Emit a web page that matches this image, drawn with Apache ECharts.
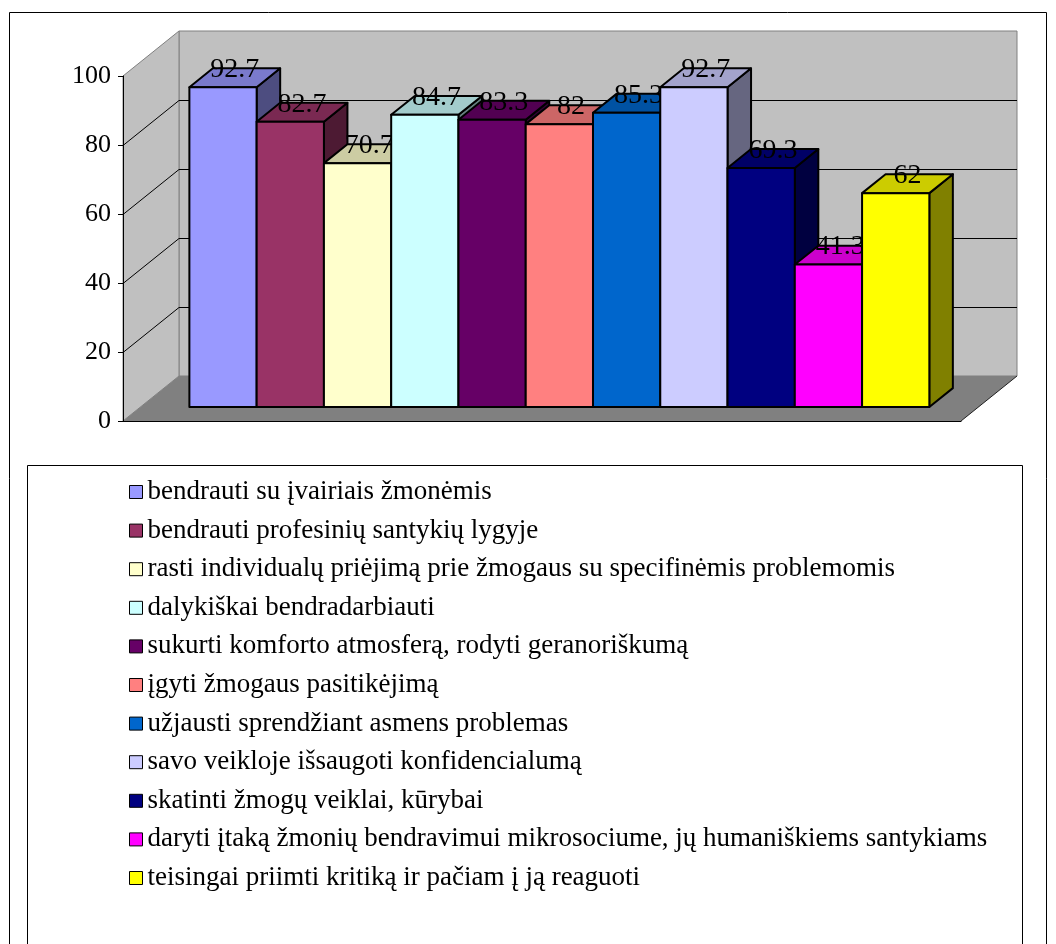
<!DOCTYPE html>
<html>
<head>
<meta charset="utf-8">
<script src="https://cdn.jsdelivr.net/npm/echarts@6/dist/echarts.min.js"></script>
<style>
  html, body { margin: 0; padding: 0; background: #fff; }
  #chart { width: 1056px; height: 944px; }
</style>
</head>
<body>
<div id="chart"></div>
<script>
// data
const categories = [
    'bendrauti su įvairiais žmonėmis',
    'bendrauti profesinių santykių lygyje',
    'rasti individualų priėjimą prie žmogaus su specifinėmis problemomis',
    'dalykiškai bendradarbiauti',
    'sukurti komforto atmosferą, rodyti geranoriškumą',
    'įgyti žmogaus pasitikėjimą',
    'užjausti sprendžiant asmens problemas',
    'savo veikloje išsaugoti konfidencialumą',
    'skatinti žmogų veiklai, kūrybai',
    'daryti įtaką žmonių bendravimui mikrosociume, jų humaniškiems santykiams',
    'teisingai priimti kritiką ir pačiam į ją reaguoti'
];
const values = [92.7, 82.7, 70.7, 84.7, 83.3, 82, 85.3, 92.7, 69.3, 41.3, 62];
const barColors = ['#9999FF', '#993366', '#FFFFCC', '#CCFFFF', '#660066', '#FF8080',
    '#0066CC', '#CCCCFF', '#000080', '#FF00FF', '#FFFF00'];
const yTicks = [0, 20, 40, 60, 80, 100];

// pseudo 3d settings
const DEPTH = [56, -45];
const BAR_FRONT = 0.31;
const BAR_BACK = 0.73;
const GROUP_RATIO = 0.883;
const FONT = '"Liberation Serif", "Times New Roman", serif';

function shade(hex, k) {
    const n = parseInt(hex.slice(1), 16);
    const r = Math.round(((n >> 16) & 255) * k);
    const g = Math.round(((n >> 8) & 255) * k);
    const b = Math.round((n & 255) * k);
    return `rgb(${r},${g},${b})`;
}

function renderWalls(params, api) {
    const cs = params.coordSys;
    const x0 = cs.x, x1 = cs.x + cs.width;
    const y0 = api.coord([0, 0])[1];
    const yTop = api.coord([0, yTicks[yTicks.length - 1]])[1];
    const [dx, dy] = DEPTH;
    const children = [
        { type: 'polygon', shape: { points: [[x0 + dx, yTop + dy], [x1 + dx, yTop + dy], [x1 + dx, y0 + dy], [x0 + dx, y0 + dy]] },
          style: { fill: '#C0C0C0', stroke: '#808080', lineWidth: 1 } },
        { type: 'polygon', shape: { points: [[x0, yTop], [x0 + dx, yTop + dy], [x0 + dx, y0 + dy], [x0, y0]] },
          style: { fill: '#C0C0C0', stroke: '#808080', lineWidth: 1 } },
        { type: 'polygon', shape: { points: [[x0, y0], [x0 + dx, y0 + dy], [x1 + dx, y0 + dy], [x1, y0]] },
          style: { fill: '#808080' } },
        { type: 'line', shape: { x1: x1, y1: y0, x2: x1 + dx, y2: y0 + dy },
          style: { stroke: '#202020', lineWidth: 1 } }
    ];
    // gridlines on back wall and side wall
    yTicks.slice(1, -1).forEach(v => {
        const y = Math.round(api.coord([0, v])[1]) + 0.5;
        children.push({ type: 'line', shape: { x1: x0 + dx, y1: y + dy, x2: x1 + dx, y2: y + dy },
            style: { stroke: '#000', lineWidth: 1 } });
        children.push({ type: 'line', shape: { x1: x0, y1: y, x2: x0 + dx, y2: y + dy },
            style: { stroke: '#000', lineWidth: 1 } });
    });
    return { type: 'group', children };
}

function renderBar(idx) {
    return function (params, api) {
        const cs = params.coordSys;
        const n = values.length;
        const bw = cs.width * GROUP_RATIO / n;
        const left = cs.x + cs.width / 2 - bw * n / 2 + idx * bw;
        const fx = DEPTH[0] * BAR_FRONT, fy = DEPTH[1] * BAR_FRONT;
        const dx = DEPTH[0] * (BAR_BACK - BAR_FRONT), dy = DEPTH[1] * (BAR_BACK - BAR_FRONT);
        const L = left + fx, R = left + bw + fx;
        const B = api.coord([0, 0])[1] + fy;
        const T = api.coord([0, api.value(1)])[1] + fy;
        const c = barColors[idx];
        const edge = { stroke: '#000', lineWidth: 2, lineJoin: 'round' };
        return {
            type: 'group',
            children: [
                { type: 'polygon', shape: { points: [[R, T], [R + dx, T + dy], [R + dx, B + dy], [R, B]] },
                  style: Object.assign({ fill: shade(c, 0.5) }, edge) },
                { type: 'polygon', shape: { points: [[L, T], [R, T], [R + dx, T + dy], [L + dx, T + dy]] },
                  style: Object.assign({ fill: shade(c, 0.8) }, edge) },
                { type: 'rect', shape: { x: L, y: T, width: R - L, height: B - T },
                  style: Object.assign({ fill: c }, edge) },
                { type: 'text', x: (L + R) / 2 + dx / 2, y: T + dy / 2 - 8,
                  style: { text: String(api.value(1)), fill: '#000', font: '28px ' + FONT,
                           align: 'center', verticalAlign: 'middle' } }
            ]
        };
    };
}

const series = [{
    type: 'custom',
    name: 'walls',
    silent: true,
    renderItem: renderWalls,
    data: [[0, 0]]
}];
categories.forEach((name, i) => {
    series.push({
        type: 'custom',
        name: name,
        silent: true,
        itemStyle: { color: barColors[i] },
        renderItem: renderBar(i),
        data: [[0, values[i]]]
    });
});

const chart = echarts.init(document.getElementById('chart'));
chart.setOption({
    animation: false,
    backgroundColor: '#fff',
    color: barColors,
    grid: { left: 123, top: 76, width: 838, height: 345 },
    xAxis: {
        type: 'category',
        data: [''],
        z: 10,
        axisLine: { lineStyle: { color: '#000', width: 1 } },
        axisTick: { length: 5, lineStyle: { color: '#000' } },
        axisLabel: { show: false }
    },
    yAxis: {
        type: 'value',
        min: 0,
        max: 100,
        interval: 20,
        z: 10,
        splitLine: { show: false },
        axisLine: { show: true, lineStyle: { color: '#000', width: 1 } },
        axisTick: { show: true, length: 5, lineStyle: { color: '#000' } },
        axisLabel: { color: '#000', fontFamily: FONT, fontSize: 26, margin: 12 }
    },
    legend: {
        data: categories,
        orient: 'vertical',
        left: 129,
        top: 478,
        padding: 0,
        itemGap: 10.6,
        itemWidth: 13,
        itemHeight: 13,
        icon: 'rect',
        selectedMode: false,
        itemStyle: { borderColor: '#000', borderWidth: 1 },
        textStyle: { color: '#000', fontFamily: FONT, fontSize: 27, lineHeight: 28 }
    },
    graphic: [
        { type: 'rect', shape: { x: 9.5, y: 12.5, width: 1037, height: 1000 },
          style: { fill: 'none', stroke: '#000', lineWidth: 1 }, silent: true },
        { type: 'rect', shape: { x: 27.5, y: 465.5, width: 995, height: 600 },
          style: { fill: 'none', stroke: '#000', lineWidth: 1 }, silent: true }
    ],
    series: series
});
</script>
</body>
</html>
